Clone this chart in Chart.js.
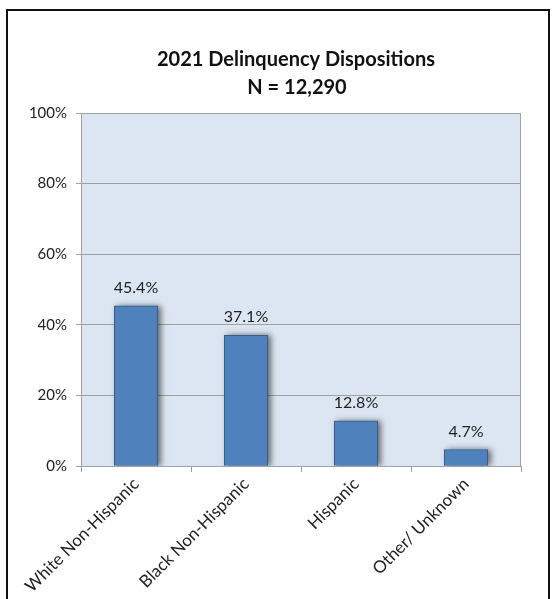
<!DOCTYPE html>
<html>
<head>
<meta charset="utf-8">
<script src="https://cdn.jsdelivr.net/npm/chart.js@4"></script>
<style>
  html, body { margin: 0; padding: 0; background: #fff; }
  #wrap { position: relative; width: 553px; height: 599px; }
</style>
</head>
<body>
<div id="wrap"><canvas id="chart" width="553" height="599"></canvas></div>
<script>
var titleLines = ["2021 Delinquency Dispositions", "N = 12,290"]
var categories = ["White Non-Hispanic", "Black Non-Hispanic", "Hispanic", "Other/ Unknown"]
var values = [45.4, 37.1, 12.8, 4.7]
var yTicks = [0, 20, 40, 60, 80, 100]

var FONT = "Lato, 'Liberation Sans', sans-serif"

// outer frame, plot background and title
var framePlugin = {
  id: "frame",
  beforeDraw: function (chart) {
    var ctx = chart.ctx
    var a = chart.chartArea
    ctx.save()
    ctx.fillStyle = "#dce6f2"
    ctx.fillRect(a.left, a.top, a.right - a.left, a.bottom - a.top)
    ctx.restore()
  },
  afterDraw: function (chart) {
    var ctx = chart.ctx
    var a = chart.chartArea
    ctx.save()
    ctx.strokeStyle = "#a0a0a0"
    ctx.lineWidth = 1
    ctx.strokeRect(a.left + 0.5, a.top + 0.5, a.right - a.left - 1, a.bottom - a.top)
    ctx.strokeStyle = "#111"
    ctx.lineWidth = 2
    ctx.strokeRect(7, 10, 542, 620)
    ctx.fillStyle = "#111"
    ctx.textAlign = "center"
    ctx.textBaseline = "middle"
    ctx.font = "bold 20px " + FONT
    ctx.fillText(titleLines[0], 296, 60)
    ctx.fillText(titleLines[1], 297, 88)
    ctx.restore()
  }
}

// bar shadow + value labels
var barPlugin = {
  id: "bars",
  beforeDatasetsDraw: function (chart) {
    var ctx = chart.ctx
    var a = chart.chartArea
    ctx.save()
    ctx.beginPath()
    ctx.rect(a.left, a.top, a.right - a.left, a.bottom - a.top)
    ctx.clip()
    ctx.shadowColor = "rgba(0,0,0,0.55)"
    ctx.shadowBlur = 6
    ctx.shadowOffsetX = 3
    ctx.shadowOffsetY = 0
    ctx.fillStyle = "#4f81bd"
    chart.getDatasetMeta(0).data.forEach(function (bar) {
      var w = bar.width
      ctx.fillRect(bar.x - w / 2, bar.y, w, bar.base - bar.y)
    })
    ctx.restore()
  },
  afterDatasetsDraw: function (chart) {
    var ctx = chart.ctx
    ctx.save()
    ctx.fillStyle = "#222"
    ctx.font = "16px " + FONT
    ctx.textAlign = "center"
    ctx.textBaseline = "middle"
    chart.getDatasetMeta(0).data.forEach(function (bar, i) {
      ctx.fillText(values[i].toFixed(1) + "%", bar.x, bar.y - 18)
    })
    ctx.restore()
  }
}

new Chart(document.getElementById("chart"), {
  type: "bar",
  data: {
    labels: categories,
    datasets: [{
      data: values,
      backgroundColor: "#4f81bd",
      borderColor: "#385d8a",
      borderWidth: 1,
      barPercentage: 0.4,
      categoryPercentage: 1.0
    }]
  },
  options: {
    responsive: false,
    animation: false,
    devicePixelRatio: 1,
    layout: { padding: { top: 113, right: 32, bottom: 0, left: 0 } },
    plugins: {
      legend: { display: false },
      title: { display: false },
      tooltip: { enabled: false }
    },
    scales: {
      x: {
        afterFit: function (s) { s.height = 133 },
        border: { display: false },
        grid: {
          offset: true,
          drawOnChartArea: false,
          drawTicks: true,
          tickLength: 6,
          color: "#a0a0a0"
        },
        ticks: {
          minRotation: 45,
          maxRotation: 45,
          padding: 2,
          color: "#222",
          font: { family: FONT, size: 17 }
        }
      },
      y: {
        min: 0,
        max: 100,
        afterFit: function (s) { s.width = 81 },
        afterBuildTicks: function (s) {
          s.ticks = yTicks.map(function (v) { return { value: v } })
        },
        border: { display: false },
        grid: {
          color: "#a0a0a0",
          tickLength: 5
        },
        ticks: {
          padding: 9,
          color: "#222",
          font: { family: FONT, size: 15 },
          callback: function (v) { return v + "%" }
        }
      }
    }
  },
  plugins: [framePlugin, barPlugin]
})
</script>
</body>
</html>
